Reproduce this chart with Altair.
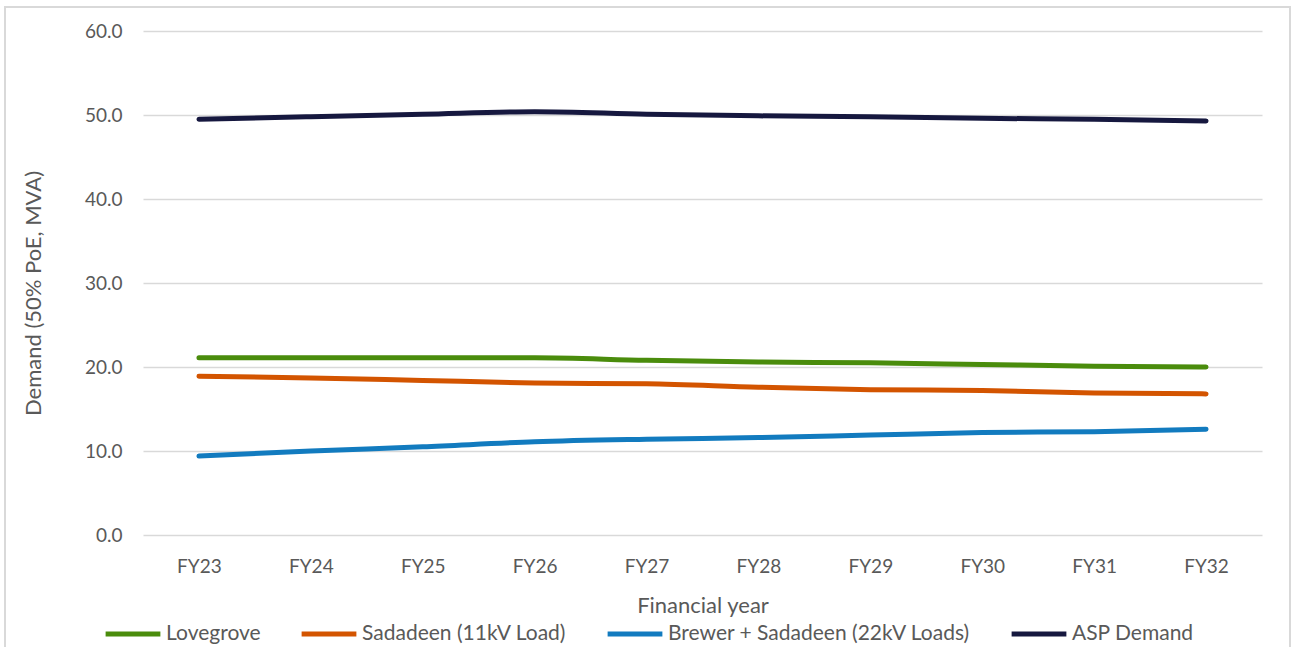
import altair as alt
import pandas as pd

years = ["FY23", "FY24", "FY25", "FY26", "FY27", "FY28", "FY29", "FY30", "FY31", "FY32"]
series_names = ["Lovegrove", "Sadadeen (11kV Load)", "Brewer + Sadadeen (22kV Loads)", "ASP Demand"]
series_colors = ["#4a8c0c", "#d35400", "#127bbf", "#16183f"]

lovegrove = [21.1, 21.1, 21.1, 21.1, 20.8, 20.6, 20.5, 20.3, 20.1, 20.0]
sadadeen_11kv = [18.9, 18.7, 18.4, 18.1, 18.0, 17.6, 17.3, 17.2, 16.9, 16.8]
brewer_sadadeen_22kv = [9.4, 10.0, 10.5, 11.1, 11.4, 11.6, 11.9, 12.2, 12.3, 12.6]
asp_demand = [49.5, 49.8, 50.1, 50.4, 50.1, 49.9, 49.8, 49.6, 49.5, 49.3]

series_values = [lovegrove, sadadeen_11kv, brewer_sadadeen_22kv, asp_demand]

rows = []
for name, vals in zip(series_names, series_values):
    for yr, v in zip(years, vals):
        rows.append({"year": yr, "series": name, "value": v})
df = pd.DataFrame(rows)

FONT = "Lato"
W, H = 1119, 504

lines = alt.Chart(df).mark_line(strokeWidth=5, strokeCap="round", interpolate="monotone").encode(
    x=alt.X("year:N", sort=years, scale=alt.Scale(paddingInner=0, paddingOuter=0.5),
            axis=alt.Axis(title="Financial year", labelAngle=0, ticks=False, domain=False,
                          grid=False, labelPadding=22, titlePadding=19,
                          labelFontSize=19, titleFontSize=22)),
    y=alt.Y("value:Q", scale=alt.Scale(domain=[0, 60], nice=False),
            axis=alt.Axis(title="Demand (50% PoE, MVA)", values=[0, 10, 20, 30, 40, 50, 60],
                          format=".1f", ticks=False, domain=False, labelPadding=21,
                          labelFontSize=19, titleFontSize=22, titleAngle=270,
                          titleX=-110, titleY=H / 2 + 10, titleAlign="center",
                          titleBaseline="middle")),
    color=alt.Color("series:N", sort=series_names,
                    scale=alt.Scale(domain=series_names, range=series_colors),
                    legend=alt.Legend(title=None, orient="none", direction="horizontal",
                                      legendX=-40, legendY=573, symbolType="stroke",
                                      symbolSize=3000, symbolStrokeWidth=5,
                                      labelFontSize=21, labelOffset=3, columnPadding=30,
                                      labelLimit=500, symbolOffset=0)),
)

border = alt.Chart(pd.DataFrame({"b": [0]})).mark_rect(
    fill=None, stroke="#d9d9d9", strokeWidth=2
).encode(
    x=alt.value(-138), x2=alt.value(1147), y=alt.value(-24), y2=alt.value(H + 120)
)

chart = alt.layer(border, lines).properties(
    width=W, height=H,
    autosize=alt.AutoSizeParams(type="none"),
    padding={"left": 143, "top": 31, "right": 29, "bottom": 112},
    background="white",
).configure_view(stroke=None).configure_axis(
    labelFont=FONT, titleFont=FONT, labelColor="#595959", titleColor="#595959",
    titleFontWeight="normal", gridColor="#d9d9d9", gridWidth=1.5,
).configure_legend(labelFont=FONT, labelColor="#595959")

chart.save("out.html", embed_options={"renderer": "svg", "actions": False})
